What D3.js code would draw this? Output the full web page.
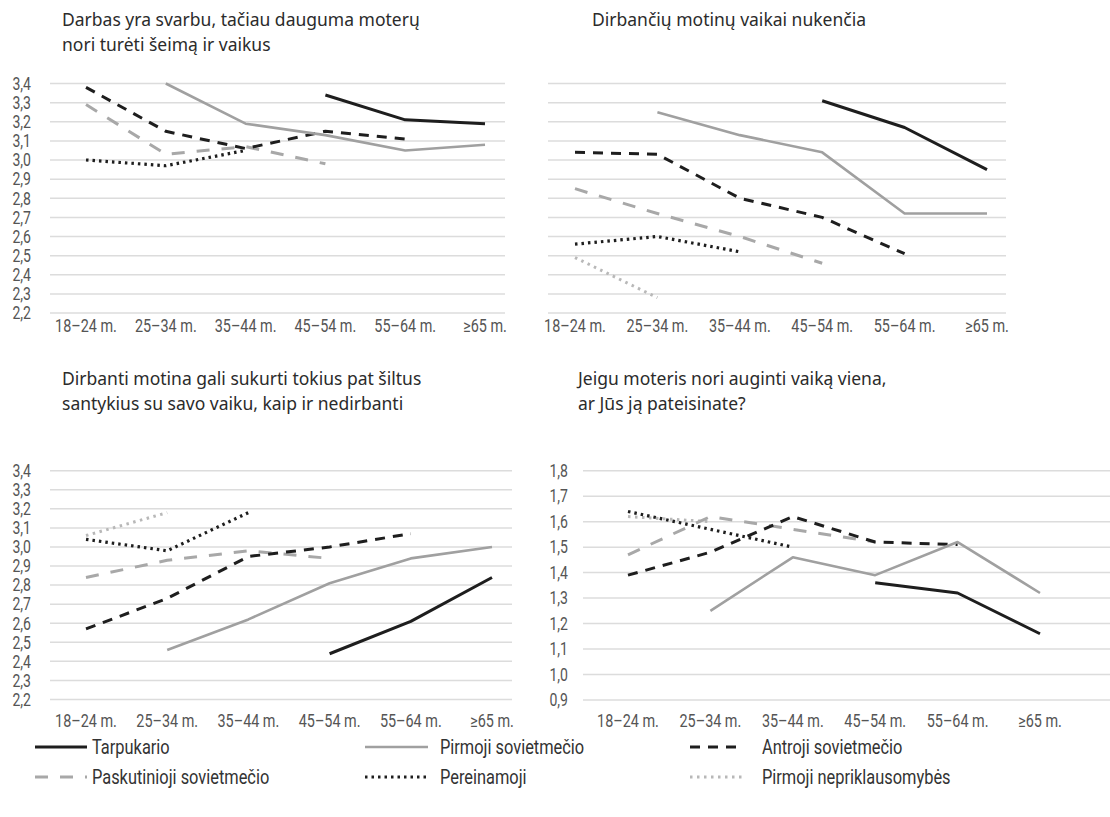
<!DOCTYPE html>
<html><head><meta charset="utf-8">
<script src="https://cdn.jsdelivr.net/npm/d3@7"></script>
<style>
body{margin:0;background:#fff;}
.t{font-family:"Noto Sans","Open Sans",sans-serif;font-size:17.5px;fill:#2b2b2b;}
.tk{font-family:"Roboto","Noto Sans",sans-serif;font-size:18px;fill:#555;}
.lg{font-family:"Roboto","Noto Sans",sans-serif;font-size:20.5px;fill:#333;}
</style></head>
<body><svg id="c" width="1110" height="817"></svg>
<script>
const categories = ["18–24 m.","25–34 m.","35–44 m.","45–54 m.","55–64 m.","≥65 m."];
const seriesNames = ["Tarpukario","Pirmoji sovietmečio","Antroji sovietmečio","Paskutinioji sovietmečio","Pereinamoji","Pirmoji nepriklausomybės"];
const ticksA = ["2,2","2,3","2,4","2,5","2,6","2,7","2,8","2,9","3,0","3,1","3,2","3,3","3,4"];
const ticksB = ["0,9","1,0","1,1","1,2","1,3","1,4","1,5","1,6","1,7","1,8"];
const titles = [
  ["Darbas yra svarbu, tačiau dauguma moterų","nori turėti šeimą ir vaikus"],
  ["Dirbančių motinų vaikai nukenčia"],
  ["Dirbanti motina gali sukurti tokius pat šiltus","santykius su savo vaiku, kaip ir nedirbanti"],
  ["Jeigu moteris nori auginti vaiką viena,","ar Jūs ją pateisinate?"]
];
// panel 1
const p1Tarpukario   = [null,null,null,3.34,3.21,3.19];
const p1Pirmoji      = [null,3.40,3.19,3.13,3.05,3.08];
const p1Antroji      = [3.38,3.15,3.06,3.15,3.11,null];
const p1Paskutinioji = [3.29,3.03,3.07,2.98,null,null];
const p1Pereinamoji  = [3.00,2.97,3.05,null,null,null];
const p1Nepriklaus   = [null,null,null,null,null,null];
// panel 2
const p2Tarpukario   = [null,null,null,3.31,3.17,2.95];
const p2Pirmoji      = [null,3.25,3.13,3.04,2.72,2.72];
const p2Antroji      = [3.04,3.03,2.80,2.70,2.51,null];
const p2Paskutinioji = [2.85,2.72,2.60,2.46,null,null];
const p2Pereinamoji  = [2.56,2.60,2.52,null,null,null];
const p2Nepriklaus   = [2.49,2.28,null,null,null,null];
// panel 3
const p3Tarpukario   = [null,null,null,2.44,2.61,2.84];
const p3Pirmoji      = [null,2.46,2.62,2.81,2.94,3.00];
const p3Antroji      = [2.57,2.73,2.95,3.00,3.07,null];
const p3Paskutinioji = [2.84,2.93,2.98,2.94,null,null];
const p3Pereinamoji  = [3.04,2.98,3.18,null,null,null];
const p3Nepriklaus   = [3.06,3.18,null,null,null,null];
// panel 4
const p4Tarpukario   = [null,null,null,1.36,1.32,1.16];
const p4Pirmoji      = [null,1.25,1.46,1.39,1.52,1.32];
const p4Antroji      = [1.39,1.48,1.62,1.52,1.51,null];
const p4Paskutinioji = [1.47,1.62,1.57,1.52,null,null];
const p4Pereinamoji  = [1.64,1.57,1.50,null,null,null];
const p4Nepriklaus   = [1.62,1.60,null,null,null,null];

const styles = [
  {c:"#1e1e1e", w:3, d:null},
  {c:"#a0a0a0", w:2.6, d:null},
  {c:"#1e1e1e", w:3, d:"10,8"},
  {c:"#a8a8a8", w:3, d:"13,12"},
  {c:"#1e1e1e", w:3.2, d:"2.5,4"},
  {c:"#b8b8b8", w:3, d:"2.5,4.5"}
];

const panels = [
  {data:[p1Tarpukario,p1Pirmoji,p1Antroji,p1Paskutinioji,p1Pereinamoji,p1Nepriklaus],
   ticks:ticksA, dom:[2.2,3.4], yr:[313,83.5], gx:[50,505], xr:[86,485], ylab:31, title:[62,20], xlaby:326},
  {data:[p2Tarpukario,p2Pirmoji,p2Antroji,p2Paskutinioji,p2Pereinamoji,p2Nepriklaus],
   ticks:ticksA, dom:[2.2,3.4], yr:[313,83.5], gx:[548,1006], xr:[575,987], ylab:null, title:[592,20], xlaby:326},
  {data:[p3Tarpukario,p3Pirmoji,p3Antroji,p3Paskutinioji,p3Pereinamoji,p3Nepriklaus],
   ticks:ticksA, dom:[2.2,3.4], yr:[699.5,470.7], gx:[50,512], xr:[86,492], ylab:31, title:[62,379], xlaby:721},
  {data:[p4Tarpukario,p4Pirmoji,p4Antroji,p4Paskutinioji,p4Pereinamoji,p4Nepriklaus],
   ticks:ticksB, dom:[0.9,1.8], yr:[700,470.7], gx:[583,1110], xr:[628,1040], ylab:568, title:[578,379], xlaby:721}
];

function ctext(g, cls, x, y, anchor, txt, sx){
  return g.append("text").attr("class",cls)
    .attr("transform",`translate(${x},${y}) scale(${sx},1)`)
    .attr("text-anchor",anchor).attr("dy","0.35em").text(txt);
}

const svg = d3.select("#c");
panels.forEach((p,pi)=>{
  const g = svg.append("g");
  const y = d3.scaleLinear().domain(p.dom).range(p.yr);
  const x = d3.scalePoint().domain(categories).range(p.xr);
  const tv = p.ticks.map(t=>+t.replace(",","."));
  g.selectAll("line.grid").data(tv).enter().append("line")
    .attr("x1",p.gx[0]).attr("x2",p.gx[1])
    .attr("y1",d=>y(d)).attr("y2",d=>y(d))
    .attr("stroke","#dcdcdc").attr("stroke-width",1.5);
  if(p.ylab!==null){
    p.ticks.forEach(t=>ctext(g,"tk",p.ylab,y(+t.replace(",",".")),"end",t,0.78));
  }
  categories.forEach(c=>ctext(g,"tk",x(c),p.xlaby,"middle",c,0.8));
  titles[pi].forEach((t,i)=>{
    g.append("text").attr("class","t").attr("x",p.title[0]).attr("y",p.title[1]+i*25).attr("dy","0.35em").text(t);
  });
  const line = d3.line().defined(d=>d.v!==null).x(d=>x(d.c)).y(d=>y(d.v));
  [5,4,3,2,1,0].forEach(si=>{
    const s = styles[si];
    const pts = categories.map((c,i)=>({c:c,v:p.data[si][i]}));
    if(pts.filter(d=>d.v!==null).length<2) return;
    g.append("path").attr("d",line(pts)).attr("fill","none")
      .attr("stroke",s.c).attr("stroke-width",s.w)
      .attr("stroke-dasharray",s.d).attr("stroke-linejoin","round");
  });
});

// legend
const legPos = [[35,747,87,92],[365,747,428,440],[690,747,743,762],[35,777,87,92],[365,777,428,440],[690,777,743,762]];
const lg = svg.append("g");
seriesNames.forEach((n,i)=>{
  const s = styles[i];
  const [lx,ly,lx2,tx] = legPos[i];
  lg.append("line").attr("x1",lx).attr("x2",lx2).attr("y1",ly).attr("y2",ly)
    .attr("stroke",s.c).attr("stroke-width",s.w).attr("stroke-dasharray",s.d);
  ctext(lg,"lg",tx,ly,"start",n,0.8);
});
</script></body></html>
